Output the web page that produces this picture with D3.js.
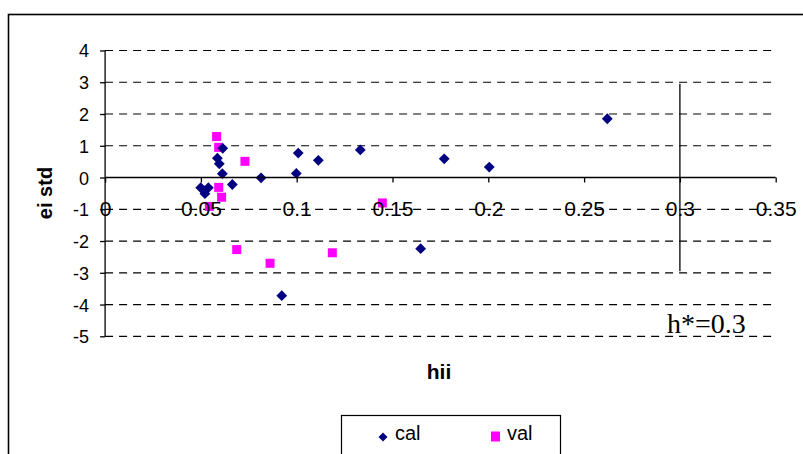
<!DOCTYPE html>
<html>
<head>
<meta charset="utf-8">
<script src="https://cdn.jsdelivr.net/npm/d3@7"></script>
<style>
  html, body { margin: 0; padding: 0; background: #fff; }
  svg { display: block; }
</style>
</head>
<body>
<svg id="chart" width="803" height="454"></svg>
<script>
// ---- data ----
const calX = [0.0614, 0.0586, 0.0596, 0.0612, 0.0664, 0.0814, 0.0499, 0.0521, 0.0539, 0.0518, 0.1008, 0.0998, 0.1113, 0.1332, 0.0922, 0.1647, 0.1770, 0.2005, 0.2621];
const calY = [0.92, 0.61, 0.43, 0.12, -0.22, -0.01, -0.32, -0.51, -0.32, -0.42, 0.77, 0.13, 0.54, 0.87, -3.72, -2.24, 0.59, 0.33, 1.85];
const valX = [0.0582, 0.0593, 0.0730, 0.0593, 0.0608, 0.0544, 0.0687, 0.0861, 0.1186, 0.1447];
const valY = [1.29, 0.95, 0.51, -0.31, -0.62, -0.91, -2.27, -2.70, -2.37, -0.80];
const xTicks = [0, 0.05, 0.1, 0.15, 0.2, 0.25, 0.3, 0.35];
const yTicks = [4, 3, 2, 1, 0, -1, -2, -3, -4, -5];
const seriesNames = ["cal", "val"];
const hStar = 0.3;
const hStarRange = [2.95, -2.95];
const hStarLabel = "h*=0.3";
const xTitle = "hii";
const yTitle = "ei std";

// ---- layout ----
const svg = d3.select("#chart");
const x = d3.scaleLinear().domain([0, 0.35]).range([105.1, 775.7]);
const y = d3.scaleLinear().domain([-5, 4]).range([336.3, 50.5]);
const navy = "#000080", magenta = "#FF00FF";

// outer border
svg.append("rect").attr("x", 8.5).attr("y", 14.5).attr("width", 900).attr("height", 500)
  .attr("fill", "none").attr("stroke", "#000").attr("stroke-width", 1.6);

// dashed gridlines
svg.append("g").selectAll("line").data(yTicks.filter(d => d !== 0)).join("line")
  .attr("x1", x(0)).attr("x2", x(0.35))
  .attr("y1", d => y(d)).attr("y2", d => y(d))
  .attr("stroke", "#000").attr("stroke-width", 1.2).attr("stroke-dasharray", "8,6");

// y axis
const yAxis = d3.axisLeft(y).tickValues(yTicks).tickSize(5).tickFormat(d => String(d));
const gy = svg.append("g").attr("transform", `translate(${x(0)},0)`).call(yAxis);
gy.select(".domain").attr("stroke", "#000").attr("stroke-width", 1.3).attr("d", `M0,${y(4)}V${y(-5)}`);
gy.selectAll(".tick line").attr("stroke", "#000").attr("stroke-width", 1.3);
gy.selectAll(".tick text").attr("font-family", "Liberation Sans, Arial, sans-serif")
  .attr("font-size", 18).attr("fill", "#000").attr("x", -16).attr("dy", "0.36em");

// vertical h* line
svg.append("line").attr("x1", x(hStar)).attr("x2", x(hStar))
  .attr("y1", y(hStarRange[0])).attr("y2", y(hStarRange[1]))
  .attr("stroke", "#000").attr("stroke-width", 1.3);

// points: val (squares), then cal (diamonds)
const valData = valX.map((v, i) => [v, valY[i]]);
const calData = calX.map((v, i) => [v, calY[i]]);
svg.append("g").selectAll("rect").data(valData).join("rect")
  .attr("x", d => x(d[0]) - 4.5).attr("y", d => y(d[1]) - 4.5)
  .attr("width", 9).attr("height", 9).attr("fill", magenta);
const diamond = "M0,-5.4L5.4,0L0,5.4L-5.4,0Z";
svg.append("g").selectAll("path").data(calData).join("path")
  .attr("d", diamond).attr("transform", d => `translate(${x(d[0])},${y(d[1])})`)
  .attr("fill", navy);

// x axis at y=0
const xAxis = d3.axisBottom(x).tickValues(xTicks).tickSize(5).tickFormat(d => String(d));
const gx = svg.append("g").attr("transform", `translate(0,${y(0)})`).call(xAxis);
gx.select(".domain").attr("stroke", "#000").attr("stroke-width", 1.3).attr("d", `M${x(0)},0H${x(0.35)}`);
gx.selectAll(".tick line").attr("stroke", "#000").attr("stroke-width", 1.3);
gx.selectAll(".tick text").attr("font-family", "Liberation Sans, Arial, sans-serif")
  .attr("font-size", 21).attr("fill", "#000").attr("y", 38).attr("dy", 0);

// axis titles
svg.append("text").attr("x", 439).attr("y", 379).attr("text-anchor", "middle")
  .attr("font-family", "Liberation Sans, Arial, sans-serif").attr("font-weight", "bold")
  .attr("font-size", 21).text(xTitle);
svg.append("text").attr("transform", "translate(52,193) rotate(-90)").attr("text-anchor", "middle")
  .attr("font-family", "Liberation Sans, Arial, sans-serif").attr("font-weight", "bold")
  .attr("font-size", 20).text(yTitle);

// h* label
svg.append("text").attr("x", 667).attr("y", 333)
  .attr("font-family", "Liberation Serif, Times New Roman, serif")
  .attr("font-size", 28).text(hStarLabel);

// legend
const lg = svg.append("g");
lg.append("rect").attr("x", 341.5).attr("y", 415.5).attr("width", 219).attr("height", 60)
  .attr("fill", "#fff").attr("stroke", "#000").attr("stroke-width", 1.2);
lg.append("path").attr("d", "M0,-4.5L4.5,0L0,4.5L-4.5,0Z").attr("transform", "translate(383,437)").attr("fill", navy);
lg.append("text").attr("x", 395).attr("y", 440).attr("font-family", "Liberation Sans, Arial, sans-serif")
  .attr("font-size", 20).text(seriesNames[0]);
lg.append("rect").attr("x", 491).attr("y", 431.5).attr("width", 9).attr("height", 10).attr("fill", magenta);
lg.append("text").attr("x", 507).attr("y", 440).attr("font-family", "Liberation Sans, Arial, sans-serif")
  .attr("font-size", 20).text(seriesNames[1]);
</script>
</body>
</html>
